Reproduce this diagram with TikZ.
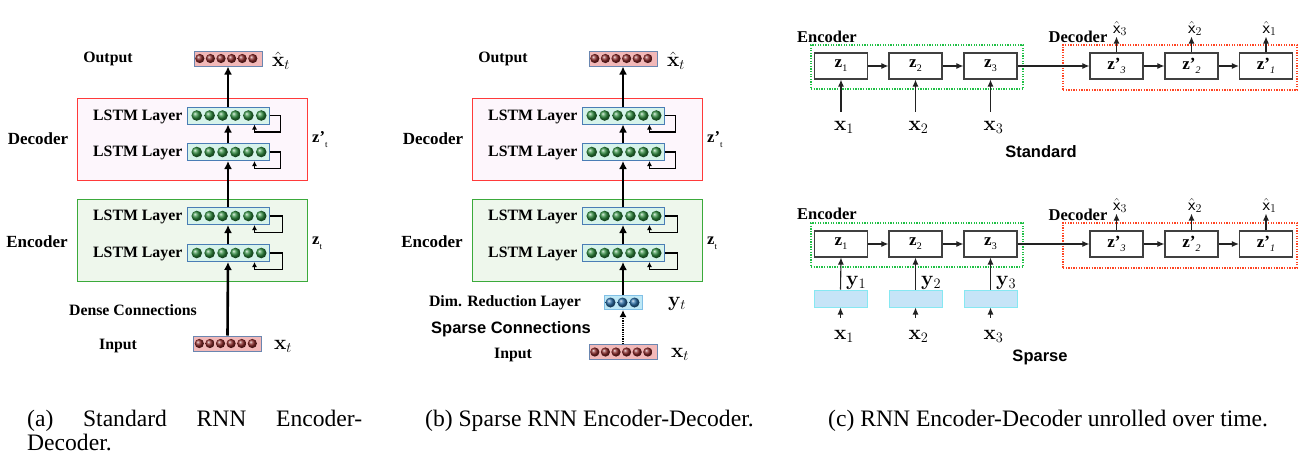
\documentclass[tikz,border=0pt]{standalone}
\usepackage[no-math]{fontspec}
\setmainfont{Liberation Serif}
\setsansfont{Liberation Sans}
\usetikzlibrary{arrows.meta}
\definecolor{lstmfill}{HTML}{D6F3EA}
\definecolor{lstmdraw}{HTML}{4A7DB5}
\definecolor{vecfill}{HTML}{F2B8B8}
\definecolor{vecdraw}{HTML}{6A86B0}
\definecolor{dimfill}{HTML}{BEE8F6}
\definecolor{dimdraw}{HTML}{82C0E6}
\definecolor{decfill}{HTML}{FDF6FC}
\definecolor{decdraw}{HTML}{FF3A3A}
\definecolor{encfill}{HTML}{EEF7EC}
\definecolor{encdraw}{HTML}{3BAA3B}
\definecolor{gdot}{HTML}{1FC045}
\definecolor{rdot}{HTML}{FF4422}
\definecolor{yfill}{HTML}{C6E4F7}
\definecolor{ydraw}{HTML}{86E8F2}
\definecolor{linec}{HTML}{222222}
\definecolor{ballg}{HTML}{2E8B3E}
\definecolor{ballr}{HTML}{8B2A2A}
\definecolor{ballb}{HTML}{2B6FA8}
\tikzset{
 lbl/.style={font=\bfseries\fontsize{15.8}{18}\selectfont, inner sep=0pt},
 part/.style={font=\bfseries\fontsize{17}{19}\selectfont, inner sep=0pt},
 cpart/.style={font=\bfseries\fontsize{16.5}{19}\selectfont, inner sep=0pt},
 sanslbl/.style={font=\sffamily\bfseries\fontsize{16.5}{19}\selectfont, inner sep=0pt},
 mathlbl/.style={font=\fontsize{20}{24}\selectfont, inner sep=0pt},
 hatlbl/.style={font=\fontsize{18}{20}\selectfont, inner sep=0pt, outer sep=1pt},
 zlbl/.style={font=\fontsize{16.5}{18}\selectfont, inner sep=0pt},
 capt/.style={font=\fontsize{23.6}{24.5}\selectfont, inner sep=0pt},
 lstm/.style={draw=lstmdraw, fill=lstmfill, line width=1pt, minimum width=82pt, minimum height=17pt, inner sep=0pt},
 vec/.style={draw=vecdraw, fill=vecfill, line width=1pt, minimum width=68pt, minimum height=15pt, inner sep=0pt},
 dimbox/.style={draw=dimdraw, fill=dimfill, line width=1pt, minimum width=38pt, minimum height=14pt, inner sep=0pt},
 decbox/.style={draw=decdraw, fill=decfill, line width=1pt, minimum width=230pt, minimum height=82pt, inner sep=0pt},
 encbox/.style={draw=encdraw, fill=encfill, line width=1pt, minimum width=230pt, minimum height=82pt, inner sep=0pt},
 flow/.style={line width=2.6pt, -{Latex[length=8pt,width=8pt]}},
 dotflow/.style={line width=2.2pt, dash pattern=on 1pt off 0.8pt, -{Latex[length=7pt,width=7pt]}},
 rec/.style={line width=1.1pt, -{Latex[length=5pt,width=5pt]}},
 zbox/.style={draw=black!75, line width=1.2pt, minimum width=53pt, minimum height=26pt, inner sep=0pt, font=\fontsize{17}{19}\selectfont},
 ybox/.style={draw=ydraw, fill=yfill, line width=1pt, minimum width=53pt, minimum height=17pt, inner sep=0pt},
 genc/.style={draw=gdot, dash pattern=on 1.3pt off 1.3pt, line width=1.3pt, minimum width=212pt, minimum height=44pt, inner sep=0pt},
 gdec/.style={draw=rdot, dash pattern=on 1.3pt off 1.3pt, line width=1.3pt, minimum width=234pt, minimum height=45pt, inner sep=0pt},
 zarr/.style={draw=linec, line width=1.1pt, -{Latex[length=7pt,width=6pt]}},
}
\newcommand\ballrow[6]{%
 \foreach \k in {1,...,#2}{\shade[ball color=#6] ([xshift={(\k-(#2+1)/2)*#3+#4}]#1.center) circle (#5);}}
\newcommand\recloop[2]{%
 \draw[rec] (#1.east) -- ++(#2,0) -- ++(0,16.5) -| ([xshift=-15pt]#1.south east);}
\newcommand\rnnpanel[2]{%
\begin{scope}[xshift=#2]
 \node[decbox] (#1dec) at (192,139) {};
 \node[encbox] (#1enc) at (192,240) {};
 \node[lstm] (#1d1) at (228,115.5) {};
 \node[lstm] (#1d2) at (228,152) {};
 \node[lstm] (#1e1) at (228,216) {};
 \node[lstm] (#1e2) at (228,253) {};
 \node[vec] (#1out) at (228,58.5) {};
 \ballrow{#1d1}{6}{12.9}{1}{5.3pt}{ballg}
 \ballrow{#1d2}{6}{12.9}{1}{5.3pt}{ballg}
 \ballrow{#1e1}{6}{12.9}{1}{5.3pt}{ballg}
 \ballrow{#1e2}{6}{12.9}{1}{5.3pt}{ballg}
 \ballrow{#1out}{6}{10.6}{-1.7}{4.6pt}{ballr}
 \node[lbl, anchor=east] (#1d1l) at ([xshift=-4pt,yshift=-1pt]#1d1.west) {LSTM Layer};
 \node[lbl, anchor=east] (#1d2l) at ([xshift=-4pt,yshift=-1pt]#1d2.west) {LSTM Layer};
 \node[lbl, anchor=east] (#1e1l) at ([xshift=-4pt,yshift=-1pt]#1e1.west) {LSTM Layer};
 \node[lbl, anchor=east] (#1e2l) at ([xshift=-4pt,yshift=-1pt]#1e2.west) {LSTM Layer};
 \node[lbl] (#1outl) at (108,58.5) {Output};
 \node[part] (#1decl) at (38,139) {Decoder};
 \node[part] (#1encl) at (37,242) {Encoder};
 \node[mathlbl] (#1xh) at (281,61) {$\hat{\mathbf{x}}_t$};
 \node[zlbl, anchor=west] (#1zp) at (312,140) {\textbf{z’}\raisebox{-5pt}{\fontsize{9}{9}\selectfont t}};
 \node[zlbl, anchor=west] (#1z) at (312,243) {\textbf{z}\raisebox{-5pt}{\fontsize{9}{9}\selectfont t}};
 \draw[flow] (#1d1.north) -- (#1out.south);
 \draw[flow] (#1d2.north) -- (#1d1.south);
 \draw[flow] (#1e1.north) -- (#1d2.south);
 \draw[flow] (#1e2.north) -- (#1e1.south);
 \recloop{#1d1}{11}
 \recloop{#1d2}{11}
 \recloop{#1e1}{13}
 \recloop{#1e2}{13}
\end{scope}}
\begin{document}
\begin{tikzpicture}[x=1pt,y=-1pt]
\fill[white] (0,0) rectangle (1314,461);
\useasboundingbox (0,0) rectangle (1314,461);
% panel (a)
\rnnpanel{a}{0pt}
\node[lbl] (adense) at (133,310) {Dense Connections};
\node[lbl] (ainl) at (118,346) {Input};
\node[vec] (ain) at (227.5,343.5) {};
\ballrow{ain}{6}{10.6}{-1.7}{4.6pt}{ballr}
\node[mathlbl] (axt) at (283,346) {$\mathbf{x}_t$};
\draw[flow] (ain.north) -- (ae2.south);
% panel (b)
\rnnpanel{b}{395pt}
\node[lbl] (bdiml) at (505,303) {Dim. Reduction Layer};
\node[dimbox] (bdim) at (623,302.5) {};
\ballrow{bdim}{3}{12}{-0.5}{5pt}{ballb}
\node[mathlbl] (byt) at (677,304) {$\mathbf{y}_t$};
\node[sanslbl] (bsparse) at (511,329) {Sparse Connections};
\node[lbl] (binl) at (513,355) {Input};
\node[vec] (bin) at (623,352) {};
\ballrow{bin}{6}{10.6}{-1.7}{4.6pt}{ballr}
\node[mathlbl] (bxt) at (680,354) {$\mathbf{x}_t$};
\draw[dotflow] (bin.north) -- (bdim.south);
\draw[flow] (bdim.north) -- (be2.south);
% panel (c) standard
\node[genc] (senc) at (917,67) {};
\node[gdec] (sdec) at (1180,67.5) {};
\node[cpart] (sencl) at (827,37) {Encoder};
\node[cpart] (sdecl) at (1078,37) {Decoder};
\node[zbox] (sz1) at (841,66) {\textbf{z}\raisebox{-4pt}{\fontsize{10}{10}\selectfont 1}};
\node[zbox] (sz2) at (915.5,66) {\textbf{z}\raisebox{-4pt}{\fontsize{10}{10}\selectfont 2}};
\node[zbox] (sz3) at (990.5,66) {\textbf{z}\raisebox{-4pt}{\fontsize{10}{10}\selectfont 3}};
\node[zbox] (szp3) at (1116.5,66) {\textbf{z’}\raisebox{-4pt}{\fontsize{10}{10}\selectfont\itshape 3}};
\node[zbox] (szp2) at (1191.5,66) {\textbf{z’}\raisebox{-4pt}{\fontsize{10}{10}\selectfont\itshape 2}};
\node[zbox] (szp1) at (1266,66) {\textbf{z’}\raisebox{-4pt}{\fontsize{10}{10}\selectfont\itshape 1}};
\node[hatlbl, anchor=base] (sxh3) at (1120,33) {$\hat{\mathsf{x}}_3$};
\node[hatlbl, anchor=base] (sxh2) at (1195,33) {$\hat{\mathsf{x}}_2$};
\node[hatlbl, anchor=base] (sxh1) at (1269.5,33) {$\hat{\mathsf{x}}_1$};
\node[mathlbl, anchor=base, outer ysep=9pt] (sx1) at (844,130) {$\mathbf{x}_1$};
\node[mathlbl, anchor=base, outer ysep=9pt] (sx2) at (918.5,130) {$\mathbf{x}_2$};
\node[mathlbl, anchor=base, outer ysep=9pt] (sx3) at (993.5,130) {$\mathbf{x}_3$};
\node[sanslbl] (sstd) at (1041,152) {Standard};
\draw[zarr] (sz1) -- (sz2);
\draw[zarr] (sz2) -- (sz3);
\draw[zarr] (sz3) -- (szp3);
\draw[zarr] (szp3) -- (szp2);
\draw[zarr] (szp2) -- (szp1);
\draw[zarr] (szp3.north) -- (szp3 |- sxh3.south);
\draw[zarr] (szp2.north) -- (szp2 |- sxh2.south);
\draw[zarr] (szp1.north) -- (szp1 |- sxh1.south);
\draw[zarr] (sz1 |- sx1.north) -- (sz1.south);
\draw[zarr] (sz2 |- sx2.north) -- (sz2.south);
\draw[zarr] (sz3 |- sx3.north) -- (sz3.south);
% panel (c) sparse
\node[genc] (penc) at (917,245) {};
\node[gdec] (pdec) at (1180,245.5) {};
\node[cpart] (pencl) at (827,214) {Encoder};
\node[cpart] (pdecl) at (1078,215) {Decoder};
\node[zbox] (pz1) at (841,244) {\textbf{z}\raisebox{-4pt}{\fontsize{10}{10}\selectfont 1}};
\node[zbox] (pz2) at (915.5,244) {\textbf{z}\raisebox{-4pt}{\fontsize{10}{10}\selectfont 2}};
\node[zbox] (pz3) at (990.5,244) {\textbf{z}\raisebox{-4pt}{\fontsize{10}{10}\selectfont 3}};
\node[zbox] (pzp3) at (1116.5,244) {\textbf{z’}\raisebox{-4pt}{\fontsize{10}{10}\selectfont\itshape 3}};
\node[zbox] (pzp2) at (1191.5,244) {\textbf{z’}\raisebox{-4pt}{\fontsize{10}{10}\selectfont\itshape 2}};
\node[zbox] (pzp1) at (1266,244) {\textbf{z’}\raisebox{-4pt}{\fontsize{10}{10}\selectfont\itshape 1}};
\node[ybox] (py1) at (840.5,298.5) {};
\node[ybox] (py2) at (915.5,298.5) {};
\node[ybox] (py3) at (990.5,298.5) {};
\node[mathlbl, anchor=base west] (pyl1) at (846,285) {$\mathbf{y}_1$};
\node[mathlbl, anchor=base west] (pyl2) at (921,285) {$\mathbf{y}_2$};
\node[mathlbl, anchor=base west] (pyl3) at (996,285) {$\mathbf{y}_3$};
\node[hatlbl, anchor=base] (pxh3) at (1120,210) {$\hat{\mathsf{x}}_3$};
\node[hatlbl, anchor=base] (pxh2) at (1195,210) {$\hat{\mathsf{x}}_2$};
\node[hatlbl, anchor=base] (pxh1) at (1269.5,210) {$\hat{\mathsf{x}}_1$};
\node[mathlbl, anchor=base, outer ysep=12pt] (px1) at (844,339) {$\mathbf{x}_1$};
\node[mathlbl, anchor=base, outer ysep=12pt] (px2) at (918.5,339) {$\mathbf{x}_2$};
\node[mathlbl, anchor=base, outer ysep=12pt] (px3) at (993.5,339) {$\mathbf{x}_3$};
\node[sanslbl] (psp) at (1040,357) {Sparse};
\draw[zarr] (pz1) -- (pz2);
\draw[zarr] (pz2) -- (pz3);
\draw[zarr] (pz3) -- (pzp3);
\draw[zarr] (pzp3) -- (pzp2);
\draw[zarr] (pzp2) -- (pzp1);
\draw[zarr] (pzp3.north) -- (pzp3 |- pxh3.south);
\draw[zarr] (pzp2.north) -- (pzp2 |- pxh2.south);
\draw[zarr] (pzp1.north) -- (pzp1 |- pxh1.south);
\draw[zarr] (py1.north) -- (pz1.south);
\draw[zarr] (py2.north) -- (pz2.south);
\draw[zarr] (py3.north) -- (pz3.south);
\draw[zarr] (py1 |- px1.north) -- (py1.south);
\draw[zarr] (py2 |- px2.north) -- (py2.south);
\draw[zarr] (py3 |- px3.north) -- (py3.south);
% captions
\node[capt, anchor=base west, text width=335pt, align=left] (capa) at (27,426) {(a)\hfill Standard\hfill RNN\hfill Encoder-\\Decoder.};
\node[capt, anchor=base west] (capb) at (425,426) {(b) Sparse RNN Encoder-Decoder.};
\node[capt, anchor=base west] (capc) at (828,426) {(c) RNN Encoder-Decoder unrolled over time.};
\end{tikzpicture}
\end{document}
